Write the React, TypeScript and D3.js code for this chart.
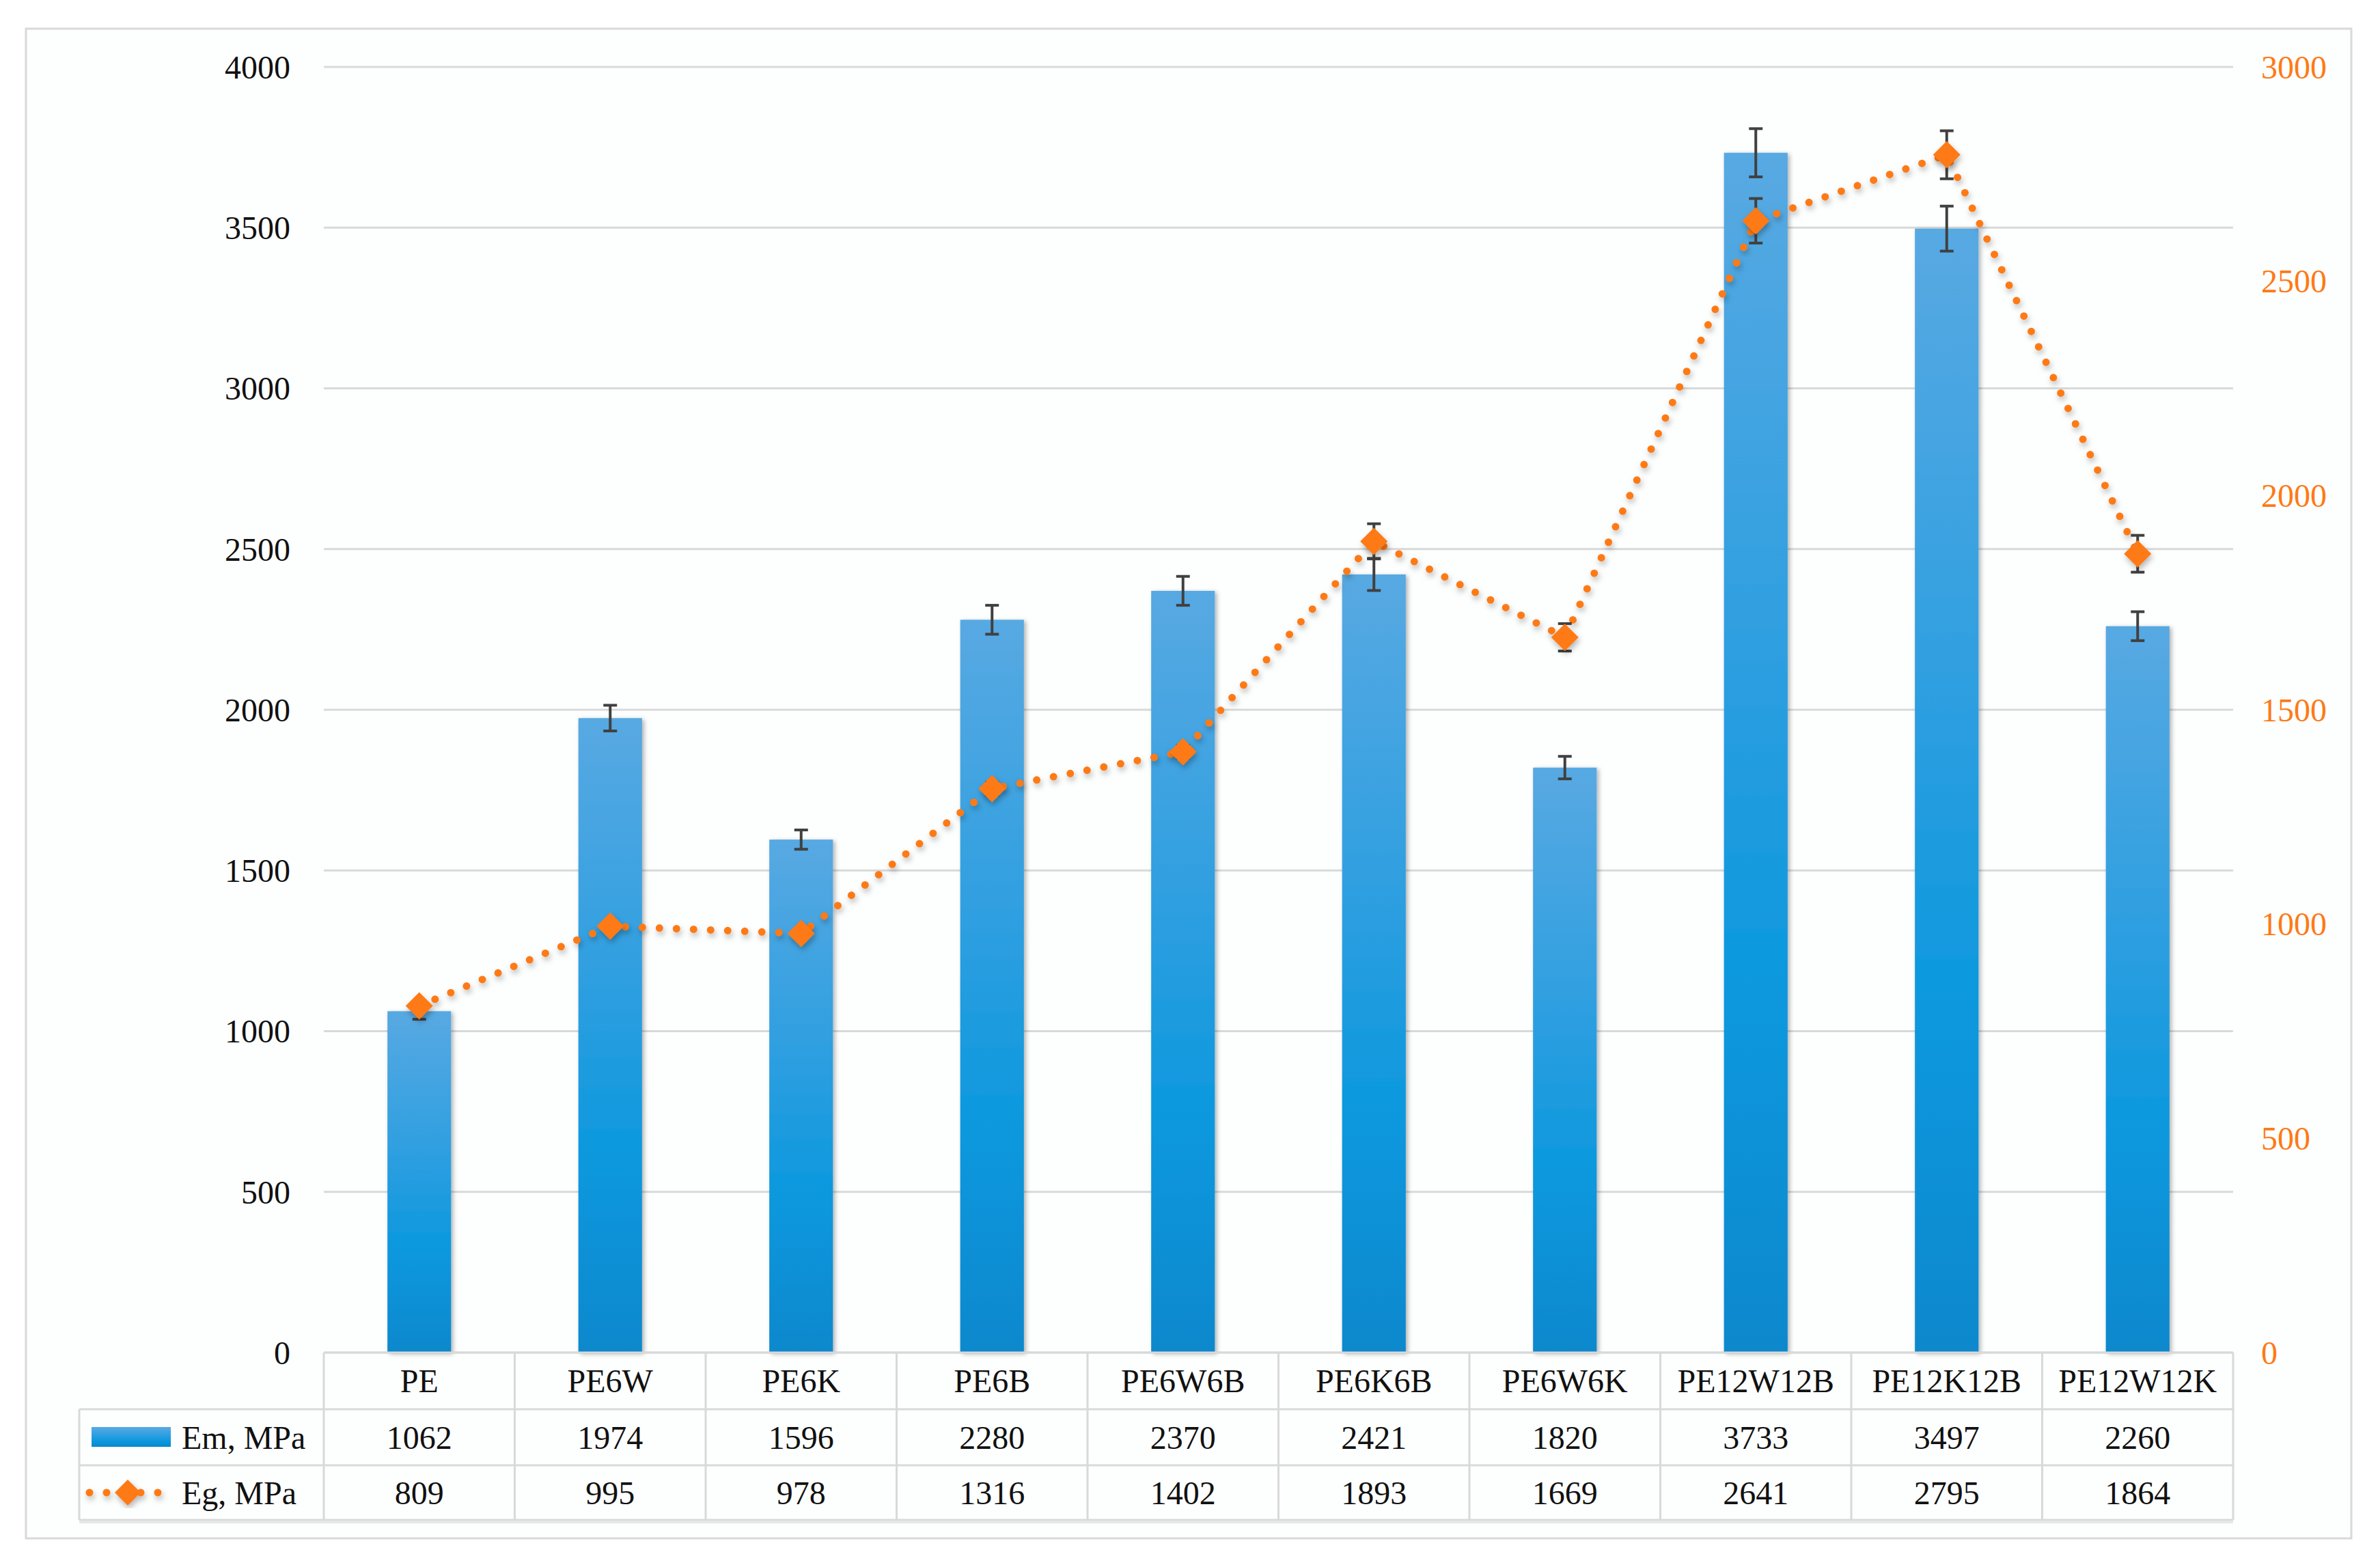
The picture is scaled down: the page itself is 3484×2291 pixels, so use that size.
import React from "react";
import * as d3 from "d3";

const categories = ["PE", "PE6W", "PE6K", "PE6B", "PE6W6B", "PE6K6B", "PE6W6K", "PE12W12B", "PE12K12B", "PE12W12K"];
const emValues = [1062, 1974, 1596, 2280, 2370, 2421, 1820, 3733, 3497, 2260];
const emErrors = [25, 40, 30, 45, 45, 50, 35, 75, 70, 45];
const egValues = [809, 995, 978, 1316, 1402, 1893, 1669, 2641, 2795, 1864];
const egErrors = [12, 12, 12, 15, 15, 41, 32, 52, 56, 43];
const leftTicks = [0, 500, 1000, 1500, 2000, 2500, 3000, 3500, 4000];
const rightTicks = [0, 500, 1000, 1500, 2000, 2500, 3000];
const seriesNames = ["Em, MPa", "Eg, MPa"];

const W = 3484;
const H = 2291;
const plotL = 474;
const plotR = 3269;
const plotT = 98;
const plotB = 1980;
const rowLines = [1980, 2063, 2145, 2225];
const tableL = 116;
const FONT = "'Liberation Serif', 'Times New Roman', serif";
const ORANGE = "#fd7a17";
const GRID = "#d9d9d9";

export default function App() {
  const x = d3.scaleBand<string>().domain(categories).range([plotL, plotR]).paddingInner(2 / 3).paddingOuter(1 / 3);
  const step = x.step();
  const yL = d3.scaleLinear().domain([0, 4000]).range([plotB, plotT]);
  const yR = d3.scaleLinear().domain([0, 3000]).range([plotB, plotT]);
  const cx = (c: string) => (x(c) as number) + x.bandwidth() / 2;
  const colLeft = (i: number) => plotL + i * step;

  const line = d3
    .line<number>()
    .x((_, i) => cx(categories[i]))
    .y((d) => yR(d));

  const diamond = (px: number, py: number, r: number) =>
    `M${px},${py - r} L${px + r},${py} L${px},${py + r} L${px - r},${py} Z`;

  const errBar = (px: number, yTop: number, yBot: number, key: string) => (
    <g key={key} stroke="#404040" strokeWidth={4} fill="none">
      <line x1={px} x2={px} y1={yTop} y2={yBot} />
      <line x1={px - 10} x2={px + 10} y1={yTop} y2={yTop} />
      <line x1={px - 10} x2={px + 10} y1={yBot} y2={yBot} />
    </g>
  );

  return (
    <svg
      width={W}
      height={H}
      viewBox={`0 0 ${W} ${H}`}
      style={{ position: "absolute", left: 0, top: 0, background: "#ffffff" }}
      fontFamily={FONT}
    >
      <defs>
        <linearGradient id="barGrad" x1="0" y1="0" x2="0" y2="1">
          <stop offset="0%" stopColor="#58a9e2" />
          <stop offset="45%" stopColor="#2a9ee0" />
          <stop offset="70%" stopColor="#0b98de" />
          <stop offset="100%" stopColor="#0888cd" />
        </linearGradient>
        <filter id="barShadow" x="-30%" y="-5%" width="160%" height="110%">
          <feDropShadow dx="3" dy="2" stdDeviation="3" floodColor="#000" floodOpacity="0.3" />
        </filter>
        <filter id="lineShadow" x="-10%" y="-10%" width="120%" height="120%">
          <feDropShadow dx="2" dy="5" stdDeviation="4" floodColor="#000" floodOpacity="0.28" />
        </filter>
      </defs>

      <rect x={0} y={0} width={W} height={H} fill="#ffffff" />
      <rect x={38} y={42} width={3404} height={2210} fill="#fdfefe" stroke={GRID} strokeWidth={3} />

      {leftTicks.map((t) => (
        <line key={`g${t}`} x1={plotL} x2={plotR} y1={yL(t)} y2={yL(t)} stroke={GRID} strokeWidth={3} />
      ))}

      {leftTicks.map((t) => (
        <text key={`l${t}`} x={425} y={yL(t)} dy="0.35em" textAnchor="end" fontSize={48} fill="#111">
          {t}
        </text>
      ))}
      {rightTicks.map((t) => (
        <text key={`r${t}`} x={3310} y={yR(t)} dy="0.35em" textAnchor="start" fontSize={48} fill={ORANGE}>
          {t}
        </text>
      ))}

      <g filter="url(#barShadow)">
        {categories.map((c, i) => (
          <rect
            key={`b${c}`}
            x={x(c)}
            y={yL(emValues[i])}
            width={x.bandwidth()}
            height={plotB - yL(emValues[i])}
            fill="url(#barGrad)"
          />
        ))}
      </g>

      {categories.map((c, i) =>
        errBar(cx(c), yL(emValues[i] + emErrors[i]), yL(emValues[i] - emErrors[i]), `ee${c}`)
      )}

      <g filter="url(#lineShadow)">
        <path
          d={line(egValues) || ""}
          fill="none"
          stroke={ORANGE}
          strokeWidth={11}
          strokeDasharray="0 25"
          strokeLinecap="round"
        />
      </g>

      {categories.map((c, i) =>
        errBar(cx(c), yR(egValues[i] + egErrors[i]), yR(egValues[i] - egErrors[i]), `eg${c}`)
      )}

      <g filter="url(#lineShadow)">
        {categories.map((c, i) => (
          <path key={`m${c}`} d={diamond(cx(c), yR(egValues[i]), 20)} fill={ORANGE} />
        ))}
      </g>

      <g stroke={GRID} strokeWidth={3}>
        <line x1={plotL} x2={plotR} y1={rowLines[0]} y2={rowLines[0]} />
        {rowLines.slice(1).map((ry) => (
          <line key={`rl${ry}`} x1={tableL} x2={plotR} y1={ry} y2={ry} />
        ))}
        <line x1={tableL} x2={tableL} y1={rowLines[1]} y2={rowLines[3]} />
        {d3.range(categories.length + 1).map((i) => (
          <line key={`cl${i}`} x1={colLeft(i)} x2={colLeft(i)} y1={rowLines[0]} y2={rowLines[3]} />
        ))}
      </g>
      <line x1={tableL} x2={plotR} y1={rowLines[3] + 3} y2={rowLines[3] + 3} stroke="#e6e6e6" strokeWidth={4} />

      {categories.map((c, i) => (
        <g key={`t${c}`} fontSize={48} fill="#111" textAnchor="middle">
          <text x={cx(c)} y={(rowLines[0] + rowLines[1]) / 2} dy="0.35em">
            {c}
          </text>
          <text x={cx(c)} y={(rowLines[1] + rowLines[2]) / 2} dy="0.35em">
            {emValues[i]}
          </text>
          <text x={cx(c)} y={(rowLines[2] + rowLines[3]) / 2} dy="0.35em">
            {egValues[i]}
          </text>
        </g>
      ))}

      <rect x={134} y={2089} width={116} height={29} fill="url(#barGrad)" />
      <text x={266} y={(rowLines[1] + rowLines[2]) / 2} dy="0.35em" fontSize={48} fill="#111">
        {seriesNames[0]}
      </text>
      <g filter="url(#lineShadow)">
        <line
          x1={131}
          x2={244}
          y1={2185}
          y2={2185}
          stroke={ORANGE}
          strokeWidth={11}
          strokeDasharray="0 25"
          strokeLinecap="round"
        />
        <path d={diamond(187, 2185, 19)} fill={ORANGE} />
      </g>
      <text x={266} y={(rowLines[2] + rowLines[3]) / 2} dy="0.35em" fontSize={48} fill="#111">
        {seriesNames[1]}
      </text>
    </svg>
  );
}
